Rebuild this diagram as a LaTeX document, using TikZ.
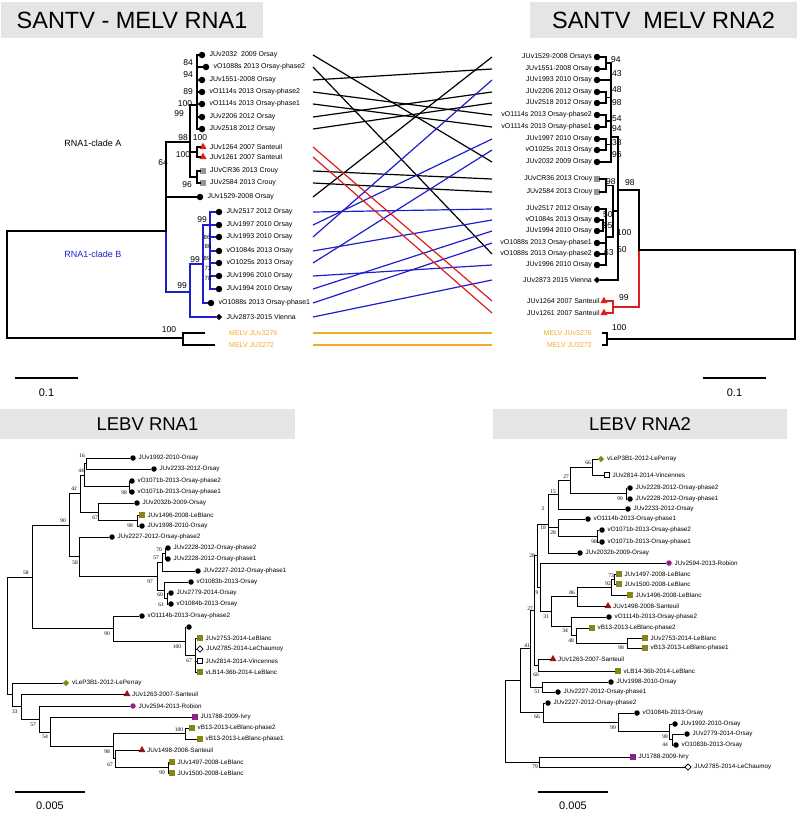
\documentclass[tikz,border=0pt]{standalone}
\usepackage{fontspec}
\setmainfont{Liberation Sans}
\newfontfamily\serifb{Liberation Serif}
\usetikzlibrary{shapes.geometric}
\definecolor{tblue}{RGB}{30,30,205}
\definecolor{tred}{RGB}{222,30,30}
\definecolor{torange}{RGB}{245,168,40}
\definecolor{hgray}{RGB}{229,229,229}
\definecolor{mgray}{RGB}{150,150,150}
\definecolor{olivem}{RGB}{135,135,25}
\definecolor{dred}{RGB}{150,20,20}
\definecolor{purp}{RGB}{140,35,140}
\def\lfgap{3.5pt}
\newcommand{\lfL}[6]{\node[#1] (#2) at (#3,#4) {};\node[#6,anchor=west] (#2t) at ([xshift=\lfgap]#2.east) {#5};}
\newcommand{\lfR}[6]{\node[#1] (#2) at (#3,#4) {};\node[#6,anchor=east] (#2t) at ([xshift=-1.5pt]#2.west) {#5};}
\newcommand{\bV}[4][]{\draw[br,#1] (#2,#3) -- (#2,#4);}
\newcommand{\bH}[4][]{\draw[br,#1] (#2,#4) -- (#3,#4);}
\newcommand{\bL}[4][]{\draw[br,#1] (#2,#3) -- (#4);}
\newcounter{bsn}
\newcommand{\bs}[4][]{\stepcounter{bsn}\node[bt,#1] (bs\thebsn) at (#2,#3) {#4};}
\newcommand{\tgline}[4]{\coordinate (tl#1) at (313,#2);\coordinate (tr#1) at (492,#3);\draw[tgl,#4] (tl#1) -- (tr#1);}
\begin{document}
\begin{tikzpicture}[x=1pt,y=-1pt,
  lt/.style={font=\fontsize{7}{8}\selectfont, inner sep=0pt},
  lb/.style={font=\fontsize{6.3}{7}\selectfont, inner sep=0pt},
  bt/.style={font=\fontsize{8.5}{9}\selectfont, inner sep=0pt},
  bts/.style={font=\fontsize{6}{7}\selectfont, inner sep=0pt},
  bb/.style={font=\serifb\fontsize{5.5}{6}\selectfont, inner sep=0pt},
  br/.style={line width=1.1pt, line cap=rect},
  tgl/.style={line width=1.2pt},
  dotT/.style={circle, fill=black, minimum size=6.5pt, inner sep=0pt},
  dotB/.style={circle, fill=black, minimum size=5.5pt, inner sep=0pt},
  triR/.style={regular polygon, regular polygon sides=3, fill=tred, minimum size=8.5pt, inner sep=0pt},
  sqG/.style={rectangle, fill=mgray, minimum size=5.5pt, inner sep=0pt},
  diaK/.style={diamond, fill=black, minimum size=6.5pt, inner sep=0pt},
  sqO/.style={rectangle, fill=olivem, minimum size=5.5pt, inner sep=0pt},
  sqW/.style={rectangle, draw=black, line width=0.8pt, fill=white, minimum size=5pt, inner sep=0pt},
  diaW/.style={diamond, draw=black, line width=0.8pt, fill=white, minimum size=6.5pt, inner sep=0pt},
  diaO/.style={diamond, fill=olivem, minimum size=6.5pt, inner sep=0pt},
  triD/.style={regular polygon, regular polygon sides=3, fill=dred, minimum size=8pt, inner sep=0pt},
  dotP/.style={circle, fill=purp, minimum size=5.5pt, inner sep=0pt},
  sqP/.style={rectangle, fill=purp, minimum size=5.5pt, inner sep=0pt},
  sbar/.style={line width=1.1pt},
  sbt/.style={font=\fontsize{11}{12}\selectfont, inner sep=0pt}
]
\useasboundingbox (0,0) rectangle (797,819);
% ---------- headers ----------
\fill[hgray] (1,2) rectangle (263,38);
\node[font=\fontsize{23.5}{25}\selectfont] (h1) at (132,20) {SANTV - MELV RNA1};
\fill[hgray] (530,2) rectangle (797,38);
\node[font=\fontsize{23.5}{25}\selectfont] (h2) at (663.5,20) {SANTV\hspace{0.55em}MELV RNA2};
\fill[hgray] (0,409) rectangle (295,439);
\node[font=\fontsize{18.5}{20}\selectfont] (h3) at (147.5,424) {LEBV RNA1};
\fill[hgray] (493,409) rectangle (787,439);
\node[font=\fontsize{18.5}{20}\selectfont] (h4) at (640,424) {LEBV RNA2};

% ---------- tanglegram ----------
\tgline{1}{55}{162}{black}
\tgline{2}{67}{254}{black}
\tgline{3}{80}{69}{black}
\tgline{4}{92}{115}{black}
\tgline{5}{104}{127}{black}
\tgline{6}{117}{92}{black}
\tgline{7}{129}{103}{black}
\tgline{10}{171}{179}{black}
\tgline{11}{183}{192}{black}
\tgline{12}{197}{57}{black}
\tgline{13}{212}{209}{tblue}
\tgline{14}{225}{139}{tblue}
\tgline{15}{237}{80}{tblue}
\tgline{16}{251}{220}{tblue}
\tgline{17}{263}{150}{tblue}
\tgline{18}{276}{265}{tblue}
\tgline{19}{289}{231}{tblue}
\tgline{20}{303}{243}{tblue}
\tgline{21}{317}{280}{tblue}
\tgline{8}{147}{301}{tred}
\tgline{9}{157}{313}{tred}
\tgline{22}{333}{333}{torange,line width=2pt}
\tgline{23}{345}{345}{torange,line width=2pt}

% ---------- top-left tree ----------
\def\lfgap{4pt}
\lfL{dotT}{a1}{202}{55}{JUv2032 \ 2009 Orsay}{lt}
\lfL{dotT}{a2}{206}{67}{vO1088s 2013 Orsay-phase2}{lt}
\lfL{dotT}{a3}{202}{80}{JUv1551-2008 Orsay}{lt}
\lfL{dotT}{a4}{202}{92}{vO1114s 2013 Orsay-phase2}{lt}
\lfL{dotT}{a5}{202}{104}{vO1114s 2013 Orsay-phase1}{lt}
\lfL{dotT}{a6}{202}{117}{JUv2206 2012 Orsay}{lt}
\lfL{dotT}{a7}{202}{129}{JUv2518 2012 Orsay}{lt}
\lfL{triR}{a8}{203}{147}{JUv1264 2007 Santeuil}{lt}
\lfL{triR}{a9}{203}{157}{JUv1261 2007 Santeuil}{lt}
\lfL{sqG}{a10}{203}{171}{JUvCR36 2013 Crouy}{lt}
\lfL{sqG}{a11}{203}{183}{JUv2584 2013 Crouy}{lt}
\lfL{dotT}{a12}{200}{197}{JUv1529-2008 Orsay}{lt}
\lfL{dotT}{b1}{219}{212}{JUv2517 2012 Orsay}{lt}
\lfL{dotT}{b2}{219}{225}{JUv1997 2010 Orsay}{lt}
\lfL{dotT}{b3}{219}{237}{JUv1993 2010 Orsay}{lt}
\lfL{dotT}{b4}{219}{251}{vO1084s 2013 Orsay}{lt}
\lfL{dotT}{b5}{219}{263}{vO1025s 2013 Orsay}{lt}
\lfL{dotT}{b6}{219}{276}{JUv1996 2010 Orsay}{lt}
\lfL{dotT}{b7}{219}{289}{JUv1994 2010 Orsay}{lt}
\lfL{dotT}{b8}{211}{303}{vO1088s 2013 Orsay-phase1}{lt}
\lfL{diaK}{b9}{219}{317}{JUv2873-2015 Vienna}{lt}
\node[lt,anchor=west,text=torange] (m1) at (229,333) {MELV JUv3276};
\node[lt,anchor=west,text=torange] (m2) at (229,345) {MELV JU3272};

\bV{197}{55}{129}
\bL{197}{55}{a1}\bL{197}{67}{a2}\bL{197}{80}{a3}\bL{197}{92}{a4}
\bL{197}{104}{a5}\bL{197}{117}{a6}\bL{197}{129}{a7}
\bH{190}{197}{105}
\bV{190}{105}{177}
\bV{197}{147}{157}\bL{197}{147}{a8}\bL{197}{157}{a9}\bH{190}{197}{152}
\bV{197}{171}{183}\bL{197}{171}{a10}\bL{197}{183}{a11}\bH{190}{197}{177}
\bH{166}{190}{142}
\bV{166}{142}{231}
\bL{166}{197}{a12}
\bV[tblue]{166}{231}{292}
\bH{7}{166}{231}
\bV{7}{231}{338}
\bH{7}{183}{338}
\bV{183}{333}{345}
\bH{183}{204}{333}
\bH{183}{214}{345}
\bH[tblue]{166}{190}{292}
\bV[tblue]{190}{264}{317}
\bL[tblue]{190}{317}{b9}
\bH[tblue]{190}{203}{264}
\bV[tblue]{203}{225}{303}
\bL[tblue]{203}{303}{b8}
\bH[tblue]{203}{210}{225}
\bV[tblue]{210}{212}{289}
\bL[tblue]{210}{212}{b1}\bL[tblue]{210}{225}{b2}\bL[tblue]{210}{237}{b3}
\bL[tblue]{210}{251}{b4}\bL[tblue]{210}{263}{b5}\bL[tblue]{210}{276}{b6}
\bL[tblue]{210}{289}{b7}

\bs{188}{63}{84}\bs{188}{75}{94}\bs{188}{92}{89}
\bs{185}{104}{100}\bs{179}{114}{99}
\bs{183}{138}{98}\bs{200}{138}{100}\bs{183}{155}{100}
\bs{187}{185}{96}\bs{163}{163}{64}
\bs{202}{220}{99}\bs{195}{260}{99}\bs{182}{286}{99}
\bs[bts]{207}{237}{86}\bs[bts]{208}{246}{80}\bs[bts]{207}{258}{89}
\bs[bts]{208}{268}{72}\bs[bts]{208}{278}{78}
\bs{169}{330}{100}
\node[font=\fontsize{9}{10}\selectfont, inner sep=0pt] (ca) at (93,143) {RNA1-clade A};
\node[font=\fontsize{9}{10}\selectfont, inner sep=0pt, text=tblue] (cb) at (93,254) {RNA1-clade B};

% ---------- top-right tree ----------
\lfR{dotT}{r1}{597}{57}{JUv1529-2008 Orsays}{lt}
\lfR{dotT}{r2}{597}{69}{JUv1551-2008 Orsay}{lt}
\lfR{dotT}{r3}{597}{80}{JUv1993 2010 Orsay}{lt}
\lfR{dotT}{r4}{597}{92}{JUv2206 2012 Orsay}{lt}
\lfR{dotT}{r5}{597}{103}{JUv2518 2012 Orsay}{lt}
\lfR{dotT}{r6}{597}{115}{vO1114s 2013 Orsay-phase2}{lt}
\lfR{dotT}{r7}{597}{127}{vO1114s 2013 Orsay-phase1}{lt}
\lfR{dotT}{r8}{597}{139}{JUv1997 2010 Orsay}{lt}
\lfR{dotT}{r9}{597}{150}{vO1025s 2013 Orsay}{lt}
\lfR{dotT}{r10}{597}{162}{JUv2032 2009 Orsay}{lt}
\lfR{sqG}{r11}{597}{179}{JUvCR36 2013 Crouy}{lt}
\lfR{sqG}{r12}{597}{192}{JUv2584 2013 Crouy}{lt}
\lfR{dotT}{r13}{597}{209}{JUv2517 2012 Orsay}{lt}
\lfR{dotT}{r14}{597}{220}{vO1084s 2013 Orsay}{lt}
\lfR{dotT}{r15}{597}{231}{JUv1994 2010 Orsay}{lt}
\lfR{dotT}{r16}{597}{243}{vO1088s 2013 Orsay-phase1}{lt}
\lfR{dotT}{r17}{597}{254}{vO1088s 2013 Orsay-phase2}{lt}
\lfR{dotT}{r18}{597}{265}{JUv1996 2010 Orsay}{lt}
\lfR{diaK}{r19}{597}{280}{JUv2873 2015 Vienna}{lt}
\lfR{triR}{r20}{604}{301}{JUv1264 2007 Santeuil}{lt}
\lfR{triR}{r21}{604}{313}{JUv1261 2007 Santeuil}{lt}
\node[lt,anchor=east,text=torange] (m3) at (592,333) {MELV JUv3276};
\node[lt,anchor=east,text=torange] (m4) at (592,345) {MELV JU3272};

\bV{606}{57}{69}\bL{606}{57}{r1}\bL{606}{69}{r2}\bH{606}{611}{63}
\bL{611}{80}{r3}
\bV{606}{92}{103}\bL{606}{92}{r4}\bL{606}{103}{r5}\bH{606}{611}{97.5}
\bV{606}{115}{127}\bL{606}{115}{r6}\bL{606}{127}{r7}\bH{606}{611}{121}
\bV{606}{139}{150}\bL{606}{139}{r8}\bL{606}{150}{r9}\bH{606}{611}{144.5}
\bL{611}{162}{r10}
\bV{611}{63}{162}
\bH{611}{618}{137}
\bV{606}{179}{192}\bL{606}{179}{r11}\bL{606}{192}{r12}\bH{606}{613}{185.5}
\bV{603}{220}{231}\bL{603}{220}{r14}\bL{603}{231}{r15}
\bV{606}{209}{265}\bL{606}{209}{r13}\bH{603}{606}{225.5}
\bL{606}{243}{r16}\bL{606}{254}{r17}\bL{606}{265}{r18}
\bH{606}{613}{237}
\bV{613}{185.5}{237}\bH{613}{618}{211}
\bL{618}{280}{r19}
\bV{618}{137}{280}
\bH{618}{639}{190}
\bV{639}{190}{250}
\bV[tred]{639}{250}{307}
\bH[tred]{613}{639}{307}
\bV[tred]{613}{301}{313}\bL[tred]{613}{301}{r20}\bL[tred]{613}{313}{r21}
\bH{639}{795}{250}
\bV{795}{250}{339}
\bH{607}{795}{339}
\bV{607}{333}{345}\bH{603}{607}{333}\bH{603}{607}{345}

\bs[anchor=west]{611}{60}{94}\bs[anchor=west]{612}{74}{43}
\bs[anchor=west]{612}{90}{48}\bs[anchor=west]{612}{103}{98}
\bs[anchor=west]{612}{119}{54}\bs[anchor=west]{612}{129}{94}
\bs[anchor=west]{612}{143}{38}\bs[anchor=west]{612}{155}{96}
\bs[anchor=west]{606}{182}{98}\bs[anchor=west]{625}{183}{98}
\bs[anchor=west]{603}{215}{50}\bs[anchor=west]{603}{226}{95}
\bs[anchor=west]{604}{253}{63}\bs[anchor=west]{617}{233}{100}
\bs[anchor=west]{617}{250}{50}\bs[anchor=west]{619}{298}{99}
\bs[anchor=west]{612}{328}{100}

% ---------- scale bars top ----------
\coordinate (s1a) at (15,378);\coordinate (s1b) at (78,378);
\draw[sbar] (s1a) -- (s1b);
\node[sbt] (s1t) at (46.5,393) {0.1};
\coordinate (s2a) at (703,378);\coordinate (s2b) at (766,378);
\draw[sbar] (s2a) -- (s2b);
\node[sbt] (s2t) at (734.5,393) {0.1};

% ---------- bottom trees ----------
\begin{scope}[br/.style={line width=0.85pt, line cap=rect}]
\def\lfgap{2.5pt}
% LEBV RNA1
\lfL{dotB}{c1}{133}{458}{JUv1992-2010-Orsay}{lb}
\lfL{dotB}{c2}{154}{469}{JUv2233-2012-Orsay}{lb}
\lfL{dotB}{c3}{132}{481}{vO1071b-2013-Orsay-phase2}{lb}
\lfL{dotB}{c4}{132}{492}{vO1071b-2013-Orsay-phase1}{lb}
\lfL{dotB}{c5}{137}{503}{JUv2032b-2009-Orsay}{lb}
\lfL{sqO}{c6}{142}{515}{JUv1496-2008-LeBlanc}{lb}
\lfL{dotB}{c7}{142}{526}{JUv1998-2010-Orsay}{lb}
\lfL{dotB}{c8}{112}{537}{JUv2227-2012-Orsay-phase2}{lb}
\lfL{dotB}{c9}{168}{548}{JUv2228-2012-Orsay-phase2}{lb}
\lfL{dotB}{c10}{168}{559}{JUv2228-2012-Orsay-phase1}{lb}
\lfL{dotB}{c11}{198}{571}{JUv2227-2012-Orsay-phase1}{lb}
\lfL{dotB}{c12}{191}{582}{vO1083b-2013-Orsay}{lb}
\lfL{dotB}{c13}{171}{593}{JUv2779-2014-Orsay}{lb}
\lfL{dotB}{c14}{171}{604}{vO1084b-2013-Orsay}{lb}
\lfL{dotB}{c15}{142}{616}{vO1114b-2013-Orsay-phase2}{lb}
\node[dotB] (c16) at (189,627) {};
\lfL{sqO}{c17}{200}{638}{JUv2753-2014-LeBlanc}{lb}
\lfL{diaW}{c18}{200}{649}{JUv2785-2014-LeChaumoy}{lb}
\lfL{sqW}{c19}{200}{661}{JUv2814-2014-Vincennes}{lb}
\lfL{sqO}{c20}{200}{672}{vLB14-36b-2014-LeBlanc}{lb}
\lfL{diaO}{c21}{66}{683}{vLeP3B1-2012-LePerray}{lb}
\lfL{triD}{c22}{127}{694}{JUv1263-2007-Santeuil}{lb}
\lfL{dotP}{c23}{133}{706}{JUv2594-2013-Robion}{lb}
\lfL{sqP}{c24}{195}{717}{JU1788-2009-Ivry}{lb}
\lfL{sqO}{c25}{192}{728}{vB13-2013-LeBlanc-phase2}{lb}
\lfL{sqO}{c26}{200}{739}{vB13-2013-LeBlanc-phase1}{lb}
\lfL{triD}{c27}{142}{750}{JUv1498-2008-Santeuil}{lb}
\lfL{sqO}{c28}{172}{762}{JUv1497-2008-LeBlanc}{lb}
\lfL{sqO}{c29}{172}{773}{JUv1500-2008-LeBlanc}{lb}

\bV{86}{458}{469}\bL{86}{458}{c1}\bL{86}{469}{c2}
\bV{129}{481}{492}\bL{129}{481}{c3}\bL{129}{492}{c4}
\bV{84}{463.5}{486.5}\bH{84}{86}{463.5}\bH{84}{129}{486.5}
\bV{137}{515}{526}\bL{137}{515}{c6}\bL{137}{526}{c7}
\bV{98}{503}{520.5}\bL{98}{503}{c5}\bH{98}{137}{520.5}
\bV{80}{475}{512}\bH{80}{84}{475}\bH{80}{98}{512}
\bV{165}{548}{559}\bL{165}{548}{c9}\bL{165}{559}{c10}
\bV{162}{553.5}{571}\bH{162}{165}{553.5}\bL{162}{571}{c11}
\bV{167}{593}{604}\bL{167}{593}{c13}\bL{167}{604}{c14}
\bV{164}{582}{598.5}\bL{164}{582}{c12}\bH{164}{167}{598.5}
\bV{157}{562}{590}\bH{157}{162}{562}\bH{157}{164}{590}
\bV{79}{537}{576}\bL{79}{537}{c8}\bH{79}{157}{576}
\bV{69}{493}{556.5}\bH{69}{80}{493}\bH{69}{79}{556.5}
\bV{195}{638}{672}\bL{195}{638}{c17}\bL{195}{649}{c18}\bL{195}{661}{c19}\bL{195}{672}{c20}
\bV{185}{627}{655}\bL{185}{627}{c16}\bH{185}{195}{655}
\bV{113}{616}{641}\bL{113}{616}{c15}\bH{113}{185}{641}
\bV{32}{525}{628.5}\bH{32}{69}{525}\bH{32}{113}{628.5}
\bV{7}{577}{694}\bH{7}{32}{577}\bH{7}{12}{694}
\bV{12}{683}{706}\bL{12}{683}{c21}\bH{12}{21}{706}
\bV{21}{694}{719}\bL{21}{694}{c22}\bH{21}{39}{719}
\bV{39}{706}{732}\bL{39}{706}{c23}\bH{39}{50}{732}
\bV{50}{717}{746}\bL{50}{717}{c24}\bH{50}{113}{746}
\bV{185}{728}{739}\bL{185}{728}{c25}\bL{185}{739}{c26}
\bV{168}{762}{773}\bL{168}{762}{c28}\bL{168}{773}{c29}
\bV{115}{750}{767.5}\bL{115}{750}{c27}\bH{115}{168}{767.5}
\bV{113}{733.5}{758.75}\bH{113}{185}{733.5}\bH{113}{115}{758.75}

\bs[bb]{82}{456}{16}\bs[bb]{81}{471}{44}\bs[bb]{124}{493}{98}
\bs[bb]{74}{489}{42}\bs[bb]{95}{518}{67}\bs[bb]{130}{526}{98}
\bs[bb]{63}{521}{90}\bs[bb]{75}{563}{58}\bs[bb]{26}{573}{58}
\bs[bb]{159}{550}{70}\bs[bb]{156}{558}{57}\bs[bb]{150}{582}{97}
\bs[bb]{160}{595}{60}\bs[bb]{161}{605}{61}\bs[bb]{107}{634}{90}
\bs[bb]{177}{647}{100}\bs[bb]{189}{661}{67}\bs[bb]{15}{712}{33}
\bs[bb]{33}{725}{57}\bs[bb]{45}{737}{54}\bs[bb]{179}{730}{100}
\bs[bb]{107}{752}{98}\bs[bb]{110}{765}{67}\bs[bb]{162}{773}{99}

% LEBV RNA2
\lfL{diaO}{d1}{601}{459}{vLeP3B1-2012-LePerray}{lb}
\lfL{sqW}{d2}{607}{475}{JUv2814-2014-Vincennes}{lb}
\lfL{dotB}{d3}{630}{488}{JUv2228-2012-Orsay-phase2}{lb}
\lfL{dotB}{d4}{630}{499}{JUv2228-2012-Orsay-phase1}{lb}
\lfL{dotB}{d5}{628}{509}{JUv2233-2012-Orsay}{lb}
\lfL{dotB}{d6}{588}{519}{vO1114b-2013-Orsay-phase1}{lb}
\lfL{dotB}{d7}{602}{530}{vO1071b-2013-Orsay-phase2}{lb}
\lfL{dotB}{d8}{602}{542}{vO1071b-2013-Orsay-phase1}{lb}
\lfL{dotB}{d9}{580}{553}{JUv2032b-2009-Orsay}{lb}
\lfL{dotP}{d10}{669}{563}{JUv2594-2013-Robion}{lb}
\lfL{sqO}{d11}{619}{574}{JUv1497-2008-LeBlanc}{lb}
\lfL{sqO}{d12}{619}{584}{JUv1500-2008-LeBlanc}{lb}
\lfL{sqO}{d13}{630}{595}{JUv1496-2008-LeBlanc}{lb}
\lfL{triD}{d14}{608}{606}{JUv1498-2008-Santeuil}{lb}
\lfL{dotB}{d15}{609}{617}{vO1114b-2013-Orsay-phase2}{lb}
\lfL{sqO}{d16}{592}{628}{vB13-2013-LeBlanc-phase2}{lb}
\lfL{sqO}{d17}{645}{638}{JUv2753-2014-LeBlanc}{lb}
\lfL{sqO}{d18}{645}{648}{vB13-2013-LeBlanc-phase1}{lb}
\lfL{triD}{d19}{553}{659}{JUv1263-2007-Santeuil}{lb}
\lfL{sqO}{d20}{618}{671}{vLB14-36b-2014-LeBlanc}{lb}
\lfL{dotB}{d21}{611}{682}{JUv1998-2010-Orsay}{lb}
\lfL{dotB}{d22}{558}{692}{JUv2227-2012-Orsay-phase1}{lb}
\lfL{dotB}{d23}{548}{703}{JUv2227-2012-Orsay-phase2}{lb}
\lfL{dotB}{d24}{637}{713}{vO1084b-2013-Orsay}{lb}
\lfL{dotB}{d25}{675}{724}{JUv1992-2010-Orsay}{lb}
\lfL{dotB}{d26}{687}{734}{JUv2779-2014-Orsay}{lb}
\lfL{dotB}{d27}{676}{745}{vO1083b-2013-Orsay}{lb}
\lfL{sqP}{d28}{633}{757}{JU1788-2009-Ivry}{lb}
\lfL{diaW}{d29}{688}{767}{JUv2785-2014-LeChaumoy}{lb}

\bV{592}{459}{475}\bL{592}{459}{d1}\bL{592}{475}{d2}
\bV{626}{488}{499}\bL{626}{488}{d3}\bL{626}{499}{d4}
\bV{570}{467}{493.5}\bH{570}{592}{467}\bH{570}{626}{493.5}
\bV{558}{480}{509}\bH{558}{570}{480}\bL{558}{509}{d5}
\bV{597}{530}{542}\bL{597}{530}{d7}\bL{597}{542}{d8}
\bV{558}{519}{536}\bL{558}{519}{d6}\bH{558}{597}{536}
\bV{548}{494.5}{553}\bH{548}{558}{494.5}\bH{548}{558}{527.5}\bL{548}{553}{d9}
\bV{614}{574}{584}\bL{614}{574}{d11}\bL{614}{584}{d12}
\bV{611}{579}{595}\bH{611}{614}{579}\bL{611}{595}{d13}
\bV{577}{587}{606}\bH{577}{611}{587}\bL{577}{606}{d14}
\bV{627}{638}{648}\bL{627}{638}{d17}\bL{627}{648}{d18}
\bV{576}{628}{643}\bL{576}{628}{d16}\bH{576}{627}{643}
\bV{571}{617}{635.5}\bL{571}{617}{d15}\bH{571}{576}{635.5}
\bV{551}{596.5}{626}\bH{551}{577}{596.5}\bH{551}{571}{626}
\bV{540}{563}{611}\bL{540}{563}{d10}\bH{540}{551}{611}
\bV{537}{524}{587}\bH{537}{548}{524}\bH{537}{540}{587}
\bV{538}{659}{671}\bL{538}{659}{d19}\bL{538}{671}{d20}
\bV{534}{555.5}{665}\bH{534}{537}{555.5}\bH{534}{538}{665}
\bV{542}{682}{692}\bL{542}{682}{d21}\bL{542}{692}{d22}
\bV{530}{610}{687}\bH{530}{534}{610}\bH{530}{542}{687}
\bV{672}{734}{745}\bL{672}{734}{d26}\bL{672}{745}{d27}
\bV{669}{724}{739.5}\bL{669}{724}{d25}\bH{669}{672}{739.5}
\bV{618}{713}{731.75}\bL{618}{713}{d24}\bH{618}{669}{731.75}
\bV{543}{703}{722.4}\bL{543}{703}{d23}\bH{543}{618}{722.4}
\bV{520}{648.5}{712.7}\bH{520}{530}{648.5}\bH{520}{543}{712.7}
\bV{539}{757}{767}\bL{539}{757}{d28}\bL{539}{767}{d29}
\bV{505}{680.6}{762}\bH{505}{520}{680.6}\bH{505}{539}{762}

\bs[bb]{588}{463}{66}\bs[bb]{566}{477}{27}\bs[bb]{553}{492}{15}
\bs[bb]{620}{499}{99}\bs[bb]{543}{509}{2}\bs[bb]{543}{528}{18}
\bs[bb]{553}{533}{28}\bs[bb]{594}{542}{98}\bs[bb]{532}{556}{28}
\bs[bb]{611}{576}{73}\bs[bb]{608}{584}{92}\bs[bb]{572}{593}{86}
\bs[bb]{537}{593}{9}\bs[bb]{530}{609}{27}\bs[bb]{546}{617}{31}
\bs[bb]{565}{631}{34}\bs[bb]{571}{641}{48}\bs[bb]{621}{648}{98}
\bs[bb]{527}{646}{41}\bs[bb]{536}{675}{66}\bs[bb]{537}{692}{51}
\bs[bb]{537}{717}{66}\bs[bb]{613}{728}{99}\bs[bb]{665}{737}{98}
\bs[bb]{665}{745}{44}\bs[bb]{535}{767}{79}
\end{scope}

% ---------- scale bars bottom ----------
\coordinate (s3a) at (15,792);\coordinate (s3b) at (85,792);
\draw[sbar] (s3a) -- (s3b);
\node[sbt] (s3t) at (50,806) {0.005};
\coordinate (s4a) at (538,792);\coordinate (s4b) at (608,792);
\draw[sbar] (s4a) -- (s4b);
\node[sbt] (s4t) at (573,806) {0.005};
\end{tikzpicture}
\end{document}
